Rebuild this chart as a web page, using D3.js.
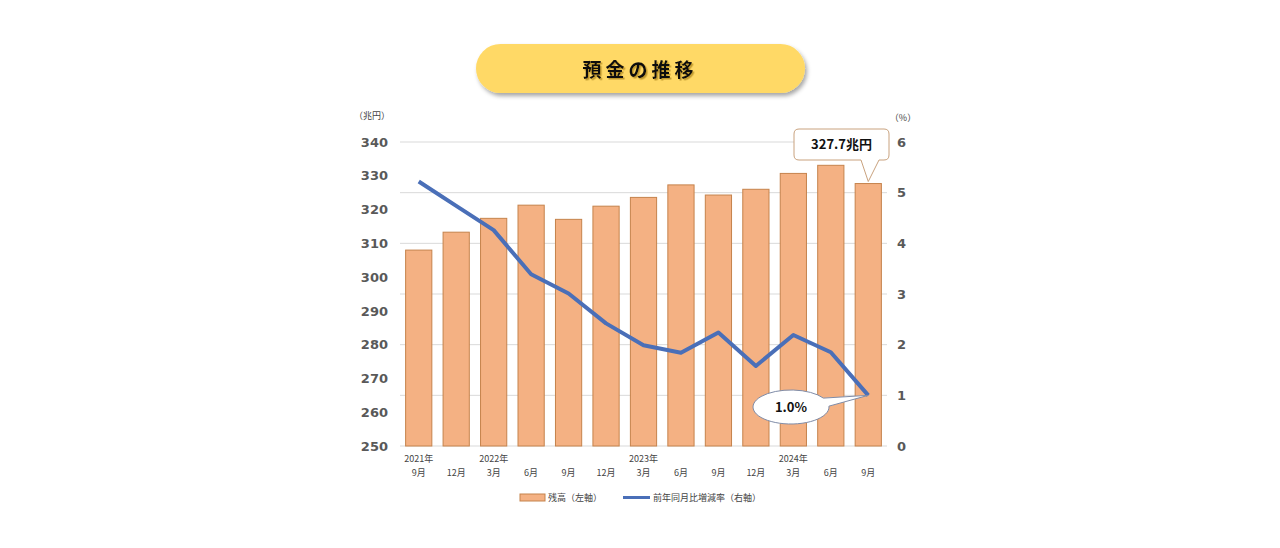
<!DOCTYPE html>
<html><head><meta charset="utf-8">
<script src="https://cdn.jsdelivr.net/npm/d3@7"></script>
<style>body{margin:0;background:#fff;}svg{display:block;font-family:"Noto Sans CJK JP","Noto Sans",sans-serif;}</style>
</head><body><svg id="c" width="1280" height="548"></svg>
<script>
const categories = ["2021-09","2021-12","2022-03","2022-06","2022-09","2022-12","2023-03","2023-06","2023-09","2023-12","2024-03","2024-06","2024-09"];
const monthLabels = ["9月","12月","3月","6月","9月","12月","3月","6月","9月","12月","3月","6月","9月"];
const yearLabels = ["2021年","","2022年","","","","2023年","","","","2024年","",""];
const balance = [308.0,313.3,317.4,321.3,317.1,321.0,323.6,327.3,324.3,326.0,330.7,333.1,327.7];
const growth = [5.22,4.74,4.26,3.39,3.01,2.42,1.99,1.84,2.24,1.58,2.19,1.85,1.0];
const leftTicks = [250,260,270,280,290,300,310,320,330,340];
const rightTicks = [0,1,2,3,4,5,6];

const svg = d3.select("#c");
const L=400, R=887, T=142, B=446;
const x = d3.scaleBand().domain(categories).range([L,R]).paddingInner(0.3).paddingOuter(0.15);
const yL = d3.scaleLinear().domain([250,340]).range([B,T]);
const yR = d3.scaleLinear().domain([0,6]).range([B,T]);

// title pill
const defs = svg.append("defs");
const f = defs.append("filter").attr("id","sh").attr("x","-10%").attr("y","-30%").attr("width","120%").attr("height","170%");
f.append("feDropShadow").attr("dx",2).attr("dy",3).attr("stdDeviation",2).attr("flood-color","#000").attr("flood-opacity",0.35);
const f2 = defs.append("filter").attr("id","tsh");
f2.append("feDropShadow").attr("dx",1.5).attr("dy",1.5).attr("stdDeviation",0.5).attr("flood-color","#b08a20").attr("flood-opacity",0.8);
svg.append("rect").attr("x",476).attr("y",44).attr("width",329).attr("height",49).attr("rx",24.5)
  .attr("fill","#FFD966").attr("filter","url(#sh)");
svg.append("text").attr("x",640).attr("y",77).attr("text-anchor","middle").attr("font-size",19).attr("font-weight","bold")
  .attr("letter-spacing",4).attr("fill","#111").attr("filter","url(#tsh)").text("預金の推移");

// gridlines (right axis)
svg.append("g").selectAll("line").data(rightTicks).join("line")
  .attr("x1",L).attr("x2",R).attr("y1",d=>yR(d)).attr("y2",d=>yR(d))
  .attr("stroke","#d9d9d9").attr("stroke-width",1);

// left axis
const gl = svg.append("g").attr("transform",`translate(${L},0)`)
  .call(d3.axisLeft(yL).tickValues(leftTicks).tickFormat(d3.format("d")).tickSize(0).tickPadding(10));
gl.select(".domain").remove();
gl.selectAll("text").attr("font-size",13).attr("font-weight","bold").attr("fill","#595959").attr("font-family","'DejaVu Sans',sans-serif").attr("dx",-2);
// right axis
const gr = svg.append("g").attr("transform",`translate(${R},0)`)
  .call(d3.axisRight(yR).tickValues(rightTicks).tickFormat(d3.format("d")).tickSize(0).tickPadding(10));
gr.select(".domain").remove();
gr.selectAll("text").attr("font-size",13).attr("font-weight","bold").attr("fill","#595959").attr("font-family","'DejaVu Sans',sans-serif");

svg.append("text").attr("x",372).attr("y",119).attr("text-anchor","middle").attr("font-size",9).attr("fill","#444").text("（兆円）");
svg.append("text").attr("x",903).attr("y",121).attr("text-anchor","middle").attr("font-size",9).attr("fill","#444").text("（%）");

// bars
svg.append("g").selectAll("rect").data(balance).join("rect")
  .attr("x",(d,i)=>x(categories[i])).attr("width",x.bandwidth())
  .attr("y",d=>yL(d)).attr("height",d=>B-yL(d))
  .attr("fill","#F4B183").attr("stroke","#C5834C").attr("stroke-width",1);

// x labels
const xl = svg.append("g");
xl.selectAll("text.m").data(monthLabels).join("text").attr("class","m")
  .attr("x",(d,i)=>x(categories[i])+x.bandwidth()/2).attr("y",476).attr("text-anchor","middle")
  .attr("font-size",9).attr("fill","#444").text(d=>d);
xl.selectAll("text.y").data(yearLabels).join("text").attr("class","y")
  .attr("x",(d,i)=>x(categories[i])+x.bandwidth()/2).attr("y",462).attr("text-anchor","middle")
  .attr("font-size",9).attr("fill","#444").text(d=>d);

// line
const line = d3.line().x((d,i)=>x(categories[i])+x.bandwidth()/2).y(d=>yR(d));
svg.append("path").datum(growth).attr("d",line).attr("fill","none")
  .attr("stroke","#4A6FB8").attr("stroke-width",4).attr("stroke-linejoin","round");

// callout 1: balance
const lastX = x(categories[12])+x.bandwidth()/2;
const lastYb = yL(balance[12]);
const bx=794, by=129, bw=95, bh=31, r=5;
svg.append("path").attr("d",
  `M${bx+r},${by} H${bx+bw-r} Q${bx+bw},${by} ${bx+bw},${by+r} V${by+bh-r} Q${bx+bw},${by+bh} ${bx+bw-r},${by+bh}`+
  ` H${bx+bw-10} L${lastX},${lastYb-2} L${bx+bw-28},${by+bh} H${bx+r} Q${bx},${by+bh} ${bx},${by+bh-r} V${by+r} Q${bx},${by} ${bx+r},${by} Z`)
  .attr("fill","#fff").attr("stroke","#C9A27E").attr("stroke-width",1);
svg.append("text").attr("x",bx+bw/2).attr("y",by+20).attr("text-anchor","middle").attr("font-size",13).attr("font-weight","bold").attr("fill","#111").text(balance[12].toFixed(1)+"兆円");

// callout 2: growth ellipse
const lastYr = yR(growth[12]);
const ecx=791, ecy=407, erx=38, ery=17;
const a1=-0.55, a2=-0.05;
const p1=[ecx+erx*Math.cos(a1), ecy+ery*Math.sin(a1)], p2=[ecx+erx*Math.cos(a2), ecy+ery*Math.sin(a2)];
svg.append("path").attr("d",
  `M${p1[0]},${p1[1]} L${lastX},${lastYr} L${p2[0]},${p2[1]} A${erx},${ery} 0 1 1 ${p1[0]},${p1[1]} Z`)
  .attr("fill","#fff").attr("stroke","#7F8CA8").attr("stroke-width",1);
svg.append("text").attr("x",ecx).attr("y",ecy+5).attr("text-anchor","middle").attr("font-size",13).attr("font-weight","bold").attr("fill","#111").text(growth[12].toFixed(1)+"%");

// legend
svg.append("rect").attr("x",520).attr("y",494).attr("width",25).attr("height",7).attr("fill","#F4B183").attr("stroke","#C5834C");
svg.append("text").attr("x",548).attr("y",501).attr("font-size",9).attr("fill","#444").text("残高（左軸）");
svg.append("line").attr("x1",623).attr("x2",650).attr("y1",497.5).attr("y2",497.5).attr("stroke","#4A6FB8").attr("stroke-width",3);
svg.append("text").attr("x",653).attr("y",501).attr("font-size",9).attr("fill","#444").text("前年同月比増減率（右軸）");
</script></body></html>
